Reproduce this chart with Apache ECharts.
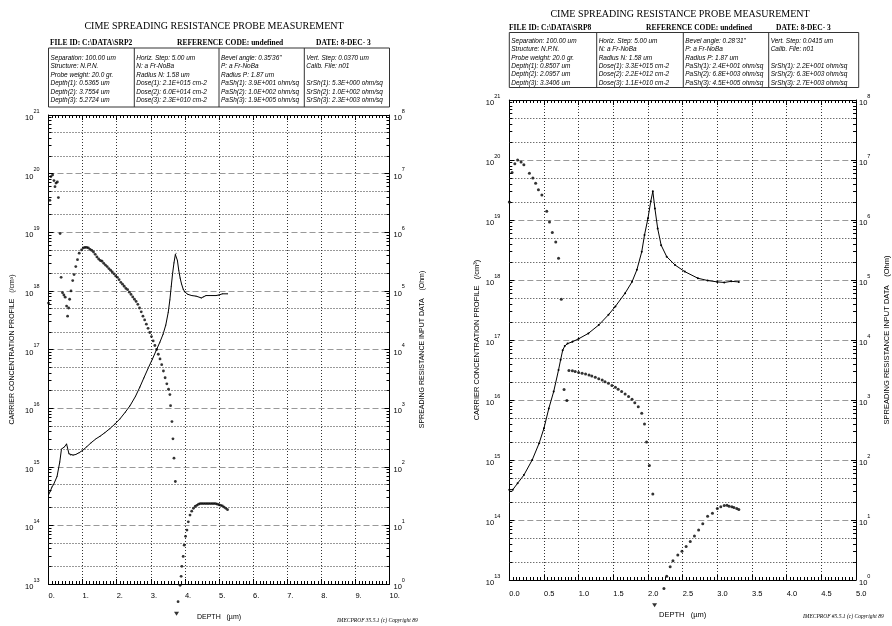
<!DOCTYPE html>
<html><head><meta charset="utf-8">
<script src="https://cdn.jsdelivr.net/npm/echarts@6/dist/echarts.min.js"></script>
<style>html,body{margin:0;padding:0;background:#fff}#c{width:892px;height:626px}</style>
</head><body><div id="c"></div>
<script>
// ---------------- DATA ----------------
const leftDepthLabels = ['0.','1.','2.','3.','4.','5.','6.','7.','8.','9.','10.'];
const rightDepthLabels = ['0.0','0.5','1.0','1.5','2.0','2.5','3.0','3.5','4.0','4.5','5.0'];
const concExponents = [13,14,15,16,17,18,19,20,21];
const resExponents = [0,1,2,3,4,5,6,7,8];

// Left measurement (SRP2): carrier concentration [depth um, /cm3]
const leftCarrier = [
[0.00,6.2e17],[0.04,3.5e19],[0.07,8.9e19],[0.12,9.5e19],[0.16,7.6e19],[0.19,6.0e19],[0.22,6.9e19],[0.26,7.2e19],
[0.29,3.9e19],[0.34,9.5e18],[0.37,1.7e18],[0.41,9.3e17],[0.45,8.5e17],[0.49,7.8e17],[0.53,5.5e17],[0.56,3.7e17],
[0.59,5.1e17],[0.62,7.2e17],[0.66,1.0e18],[0.71,1.5e18],[0.75,1.9e18],[0.80,2.6e18],[0.85,3.4e18],[0.90,4.4e18],
[0.97,5.0e18],[1.02,5.4e18],[1.07,5.5e18],[1.12,5.5e18],[1.17,5.4e18],[1.22,5.1e18],[1.27,4.9e18],[1.32,4.6e18],
[1.37,4.2e18],[1.42,3.8e18],[1.47,3.5e18],[1.52,3.3e18],[1.57,3.2e18],[1.62,2.95e18],[1.67,2.75e18],[1.72,2.6e18],
[1.77,2.4e18],[1.82,2.25e18],[1.87,2.1e18],[1.92,1.95e18],[1.97,1.8e18],[2.02,1.7e18],[2.07,1.55e18],[2.12,1.4e18],
[2.17,1.3e18],[2.22,1.2e18],[2.27,1.1e18],[2.32,1.05e18],[2.37,9.5e17],[2.42,8.7e17],[2.47,7.9e17],[2.52,7.2e17],
[2.57,6.6e17],[2.62,5.9e17],[2.67,5.1e17],[2.72,4.4e17],[2.77,3.7e17],[2.82,3.2e17],[2.87,2.7e17],[2.92,2.3e17],
[2.97,1.95e17],[3.02,1.66e17],[3.07,1.4e17],[3.12,1.17e17],[3.17,1.0e17],[3.22,8.3e16],[3.27,6.9e16],[3.32,5.5e16],
[3.37,4.3e16],[3.42,3.3e16],[3.47,2.6e16],[3.52,2.1e16],[3.56,1.7e16],[3.58,1.1e16],[3.62,5.9e15],[3.65,3.0e15],
[3.68,1.4e15],[3.72,5.6e14],[3.80,5.0e12],[3.86,9.5e12],[3.89,1.35e13],[3.91,2.0e13],[3.95,2.95e13],[3.98,4.6e13],
[4.02,6.5e13],[4.06,8.3e13],[4.10,1.15e14],[4.15,1.5e14],[4.20,1.75e14],[4.25,1.95e14],[4.30,2.1e14],[4.35,2.2e14],
[4.40,2.3e14],[4.45,2.35e14],[4.50,2.35e14],[4.55,2.35e14],[4.60,2.35e14],[4.65,2.35e14],[4.70,2.35e14],[4.75,2.35e14],
[4.80,2.35e14],[4.85,2.35e14],[4.90,2.35e14],[4.95,2.3e14],[5.00,2.25e14],[5.05,2.2e14],[5.10,2.15e14],[5.15,2.05e14],
[5.20,1.95e14],[5.25,1.85e14]
];
// Left measurement: spreading resistance [depth um, Ohm]
const leftResistance = [
[0.00,33],[0.05,38],[0.10,45],[0.15,50],[0.25,68],[0.33,120],[0.38,200],[0.47,219],[0.53,245],[0.60,166],
[0.65,158],[0.72,158],[0.80,162],[0.90,174],[1.00,190],[1.12,219],[1.25,257],[1.40,302],[1.51,331],[1.65,380],
[1.80,447],[1.95,537],[2.10,661],[2.25,851],[2.39,1096],[2.55,1585],[2.68,2291],[2.80,3311],[2.93,4898],[3.05,6918],
[3.17,10000],[3.27,13490],[3.36,18200],[3.44,26300],[3.51,42660],[3.56,70800],[3.60,120200],[3.64,199500],[3.68,302000],
[3.72,417000],[3.74,436500],[3.78,331000],[3.82,224000],[3.86,166000],[3.90,132000],[3.95,107000],[4.00,95500],
[4.09,87100],[4.20,83200],[4.33,81300],[4.48,75900],[4.55,79400],[4.62,83200],[4.75,83200],[4.91,83200],[5.00,85100],
[5.10,89100],[5.25,89100]
];

// Right measurement (SRP8): carrier concentration [depth um, /cm3]
const rightCarrier = [
[0.00,2.0e19],[0.04,6.2e19],[0.08,8.7e19],[0.12,1.0e20],[0.17,9.3e19],[0.21,8.3e19],[0.29,6.0e19],[0.34,5.0e19],
[0.38,4.1e19],[0.42,3.2e19],[0.47,2.6e19],[0.54,1.4e19],[0.58,9.3e18],[0.62,6.2e18],[0.67,4.3e18],[0.71,2.3e18],
[0.75,4.8e17],[0.79,1.5e16],[0.83,9.8e15],
[0.86,3.1e16],[0.91,3.06e16],[0.95,2.99e16],[1.00,2.88e16],[1.05,2.78e16],[1.10,2.71e16],[1.15,2.61e16],[1.19,2.51e16],
[1.24,2.39e16],[1.29,2.27e16],[1.34,2.15e16],[1.38,2.02e16],[1.43,1.9e16],[1.48,1.75e16],[1.53,1.63e16],[1.57,1.51e16],
[1.62,1.38e16],[1.67,1.26e16],[1.72,1.14e16],[1.77,1.03e16],[1.81,9.0e15],[1.86,7.7e15],[1.91,6.0e15],[1.95,4.0e15],
[1.98,2.0e15],[2.02,8.1e14],[2.07,2.7e14],
[2.23,7.2e12],[2.27,1.15e13],[2.32,1.66e13],[2.36,2.1e13],[2.43,2.6e13],[2.49,3.0e13],[2.55,3.6e13],[2.61,4.4e13],
[2.67,5.4e13],[2.73,6.8e13],[2.79,8.7e13],[2.86,1.15e14],[2.93,1.3e14],[3.00,1.55e14],[3.05,1.66e14],[3.10,1.74e14],
[3.14,1.76e14],[3.17,1.7e14],[3.21,1.66e14],[3.24,1.62e14],[3.28,1.55e14],[3.31,1.5e14]
];
// Right measurement: spreading resistance [depth um, Ohm]
const rightResistance = [
[0.00,32],[0.05,32],[0.12,41],[0.21,56],[0.33,100],[0.43,190],[0.50,339],[0.57,724],[0.64,1380],[0.71,3160],
[0.74,4680],[0.77,6760],[0.80,7940],[0.84,8710],[0.91,9330],[1.00,10470],[1.14,12880],[1.29,17780],[1.43,26300],
[1.53,36300],[1.67,60260],[1.77,93300],[1.84,147900],[1.91,295100],[1.95,562300],[2.00,1.07e6],[2.04,2.04e6],
[2.07,3.0e6],[2.10,1.55e6],[2.14,7.2e5],[2.19,3.8e5],[2.27,2.45e5],[2.39,1.78e5],[2.53,1.38e5],[2.72,1.07e5],
[2.86,9.8e4],[3.00,9.3e4],[3.10,9.1e4],[3.20,9.5e4],[3.31,9.3e4]
];

// Junction depth markers (Depth(2))
const leftJunction = [3.7554];
const rightJunction = [2.0957];

// Header table texts
const leftHeader = ['FILE ID: C:\\DATA\\SRP2', 'REFERENCE CODE: undefined', 'DATE: 8-DEC- 3'];
const rightHeader = ['FILE ID: C:\\DATA\\SRP8', 'REFERENCE CODE: undefined', 'DATE: 8-DEC- 3'];
const leftTable = [
 ['Separation: 100.00 um','Structure: N.P.N.','Probe weight: 20.0 gr.','Depth(1): 0.5365 um','Depth(2): 3.7554 um','Depth(3): 5.2724 um'],
 ['Horiz. Step: 5.00 um','N: a Fr-NoBa','Radius N: 1.58 um','Dose(1): 2.1E+015 cm-2','Dose(2): 6.0E+014 cm-2','Dose(3): 2.3E+010 cm-2'],
 ['Bevel angle: 0.35\'36"','P: a Fr-NoBa','Radius P: 1.87 um','PaSh(1): 3.9E+001 ohm/sq','PaSh(2): 1.0E+002 ohm/sq','PaSh(3): 1.9E+005 ohm/sq'],
 ['Vert. Step: 0.0370 um','Calib. File: n01','','SrSh(1): 5.3E+000 ohm/sq','SrSh(2): 1.0E+002 ohm/sq','SrSh(3): 2.3E+003 ohm/sq']
];
const rightTable = [
 ['Separation: 100.00 um','Structure: N.P.N.','Probe weight: 20.0 gr.','Depth(1): 0.8507 um','Depth(2): 2.0957 um','Depth(3): 3.3406 um'],
 ['Horiz. Step: 5.00 um','N: a Fr-NoBa','Radius N: 1.58 um','Dose(1): 3.3E+015 cm-2','Dose(2): 2.2E+012 cm-2','Dose(3): 1.1E+010 cm-2'],
 ['Bevel angle: 0.28\'31"','P: a Fr-NoBa','Radius P: 1.87 um','PaSh(1): 2.4E+001 ohm/sq','PaSh(2): 6.8E+003 ohm/sq','PaSh(3): 4.5E+005 ohm/sq'],
 ['Vert. Step: 0.0415 um','Calib. File: n01','','SrSh(1): 2.2E+001 ohm/sq','SrSh(2): 6.3E+003 ohm/sq','SrSh(3): 2.7E+003 ohm/sq']
];
const titleText = 'CIME SPREADING RESISTANCE PROBE MEASUREMENT';
const yNameLeft = 'CARRIER CONCENTRATION PROFILE   (/cm³)';
const yNameRight = 'SPREADING RESISTANCE INPUT DATA    (Ohm)';
const xName = 'DEPTH   (µm)';
const footerLeft = 'IMECPROF 35.5.1 (c) Copyright 89';
const footerRight = 'IMECPROF #5.5.1 (c) Copyright 89';

// ---------------- CHART ----------------
const SANS = 'Liberation Sans';
const SERIF = 'Liberation Serif';
const chart = echarts.init(document.getElementById('c'));

// dotted grid at 2x and 5x within each decade (concentration axis)
const subGrid = [];
for (let e = concExponents[0]; e < concExponents[concExponents.length-1]; e++) {
  subGrid.push({yAxis: 2 * Math.pow(10, e)}, {yAxis: 5 * Math.pow(10, e)});
}

function expFmt(v){ return '{b|10}{s|' + Math.round(Math.log10(v)) + '}'; }
const rich = {
  b:{fontSize:7.5, fontFamily:SANS, color:'#000', verticalAlign:'bottom'},
  s:{fontSize:5.5, fontFamily:SANS, color:'#000', padding:[0,0,8,0], verticalAlign:'bottom'}
};

const grids=[], xAxes=[], yAxes=[], series=[], graphics=[];

function addPanel(p, i){
  grids.push({left:p.left, top:p.top, width:p.width, height:p.height, show:false});
  const axisLine = {show:true, onZero:false, lineStyle:{color:'#000', width:1}};
  const tick = {show:true, inside:true, length:5, lineStyle:{color:'#000', width:1}};
  const xminor = {show:true, splitNumber:10, length:3, lineStyle:{color:'#000', width:1}};
  const yminor = {show:true, splitNumber:9, length:3, lineStyle:{color:'#000', width:1}};
  const nameStyle = {fontSize:p.nameSize, fontFamily:SANS, color:'#000'};
  xAxes.push({gridIndex:i, type:'value', min:0, max:p.xMax, interval:p.xInterval, position:'bottom',
    axisLine, axisTick:tick, minorTick:xminor,
    axisLabel:{show:true, margin:p.xLabelMargin, align:'left', fontSize:7.5, fontFamily:SANS, color:'#000',
      formatter: v => p.xLabels[Math.round(v / p.xInterval)]},
    splitLine:{show:true, lineStyle:{color:'#333', type:[1,2], width:1}},
    name:xName, nameLocation:'middle', nameGap:p.xNameGap, nameTextStyle:nameStyle});
  xAxes.push({gridIndex:i, type:'value', min:0, max:p.xMax, interval:p.xInterval, position:'top',
    axisLine, axisTick:tick, minorTick:xminor, axisLabel:{show:false}, splitLine:{show:false}});
  yAxes.push({gridIndex:i, type:'log', logBase:10, min:1e13, max:1e21, position:'left',
    axisLine, axisTick:tick, minorTick:yminor,
    axisLabel:{margin:p.yLabelMargin, formatter:expFmt, rich},
    splitLine:{show:true, lineStyle:{color:'#999', type:[6,3], width:1}},
    name:yNameLeft, nameLocation:'middle', nameRotate:90, nameGap:p.yNameGapL, nameTextStyle:nameStyle});
  yAxes.push({gridIndex:i, type:'log', logBase:10, min:1, max:1e8, position:'right',
    axisLine, axisTick:tick, minorTick:yminor,
    axisLabel:{margin:p.yLabelMarginR, formatter:expFmt, rich},
    splitLine:{show:false},
    name:yNameRight, nameLocation:'middle', nameRotate:90, nameGap:p.yNameGapR, nameTextStyle:nameStyle});

  series.push({type:'scatter', xAxisIndex:2*i, yAxisIndex:2*i, data:p.carrier, symbol:'circle',
    symbolSize:p.dot, itemStyle:{color:'#000'}, clip:false, silent:true, z:3,
    markLine:{silent:true, symbol:'none', label:{show:false}, animation:false,
      lineStyle:{color:'#333', type:[1,2], width:1}, data:subGrid}});
  series.push({type:'line', xAxisIndex:2*i, yAxisIndex:2*i+1, data:p.resistance, showSymbol:true,
    symbol:'circle', symbolSize:p.lineSym, lineStyle:{color:'#000', width:1}, itemStyle:{color:'#000'},
    clip:false, silent:true, z:4});
  series.push({type:'scatter', xAxisIndex:2*i, yAxisIndex:2*i, data:p.junction.map(d => [d, p.junctionY]),
    symbol:'triangle', symbolRotate:180, symbolSize:[5,4], itemStyle:{color:'#000'}, clip:false, silent:true});

  // header graphics
  const L = p.left;
  graphics.push({type:'text', x:p.titleX, y:p.titleY, style:{text:titleText, font:'10px "'+SERIF+'"',
    fill:'#000', align:'center', verticalAlign:'middle'}});
  p.header.forEach((t, k) => graphics.push({type:'text', x:p.headerX[k], y:p.headerY,
    style:{text:t, font:'bold 7.5px "'+SERIF+'"', fill:'#000', align:'left', verticalAlign:'middle'}}));
  graphics.push({type:'rect', shape:{x:L, y:p.tableTop, width:p.width, height:p.tableH},
    style:{fill:'none', stroke:'#333', lineWidth:1}});
  p.colX.slice(1).forEach(cx => graphics.push({type:'line', shape:{x1:cx, y1:p.tableTop, x2:cx, y2:p.tableTop+p.tableH},
    style:{stroke:'#333', lineWidth:1}}));
  p.table.forEach((col, c) => col.forEach((t, r) => {
    if (!t) return;
    graphics.push({type:'text', x:p.colX[c] + 2, y:p.rowY[r], scaleX:0.86,
      style:{text:t, font:'italic 7.5px "'+SANS+'"', fill:'#000', align:'left', verticalAlign:'middle'}});
  }));
  graphics.push({type:'text', x:p.footX, y:p.footY, style:{text:p.footer, font:'italic 5.5px "'+SERIF+'"',
    fill:'#000', align:'left', verticalAlign:'middle'}});
}

addPanel({left:48.5, top:115, width:341, height:471, xMax:10, xInterval:1, xLabels:leftDepthLabels,
  xLabelMargin:8, xNameGap:30, yLabelMargin:9, yLabelMarginR:4, yNameGapL:33, yNameGapR:29, nameSize:7,
  carrier:leftCarrier, resistance:leftResistance, dot:2.8, lineSym:1,
  junction:leftJunction, junctionY:3.1e12,
  titleX:214, titleY:26, header:leftHeader, headerX:[50,177,316], headerY:43,
  tableTop:48, tableH:59, colX:[48.5,134.3,219,304.3], rowY:[57.5,66,74.5,83,91.5,100],
  table:leftTable, footer:footerLeft, footX:337, footY:621}, 0);

addPanel({left:509.3, top:100, width:349.4, height:480, xMax:5, xInterval:0.5, xLabels:rightDepthLabels,
  xLabelMargin:10, xNameGap:31, yLabelMargin:9, yLabelMarginR:3, yNameGapL:28, yNameGapR:27, nameSize:7.5,
  carrier:rightCarrier, resistance:rightResistance, dot:3, lineSym:2,
  junction:rightJunction, junctionY:3.8e12,
  titleX:680, titleY:14, header:rightHeader, headerX:[509,646,776], headerY:28.5,
  tableTop:32.5, tableH:55, colX:[509.3,596.7,683.3,768.7], rowY:[41,49.3,57.7,66,74.3,82.5],
  table:rightTable, footer:footerRight, footX:803, footY:617}, 1);

chart.setOption({
  animation:false,
  backgroundColor:'#fff',
  grid:grids, xAxis:xAxes, yAxis:yAxes, series,
  graphic:{elements:graphics}
});
</script></body></html>
